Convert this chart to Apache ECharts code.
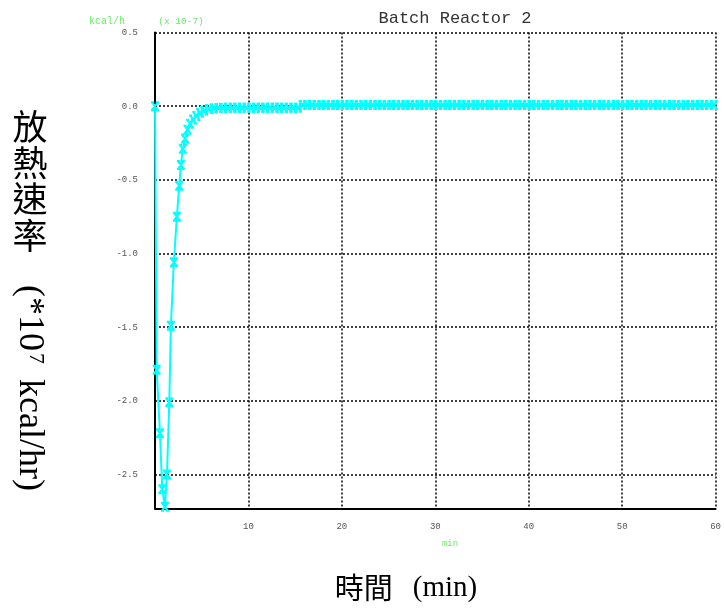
<!DOCTYPE html>
<html>
<head>
<meta charset="utf-8">
<script src="https://cdn.jsdelivr.net/npm/echarts@6/dist/echarts.min.js"></script>
<style>html,body{margin:0;padding:0;background:#fff}#c{width:724px;height:609px}</style>
</head>
<body>
<div id="c"></div>
<script>
var title = 'Batch Reactor 2';
var yUnitLabel = 'kcal/h';
var yScaleLabel = '(x 10-7)';
var xUnitLabel = 'min';
var xTickValues = [10, 20, 30, 40, 50, 60];
var yTickValues = [0.5, 0.0, -0.5, -1.0, -1.5, -2.0, -2.5];
var timeMin = [0, 0.18, 0.53, 0.78, 1.06, 1.28, 1.53, 1.70, 2.02, 2.34, 2.59, 2.77, 2.98, 3.22, 3.48, 3.76, 4.07, 4.43, 4.82, 5.24, 5.78, 6.3,
  6.8, 7.3, 7.8, 8.3, 8.8, 9.3, 9.8, 10.3, 10.8, 11.3, 11.8, 12.3, 12.8, 13.3, 13.8, 14.3, 14.8, 15.3,
  15.8, 16.3, 16.8, 17.3, 17.8, 18.3, 18.8, 19.3, 19.8, 20.3, 20.8, 21.3, 21.8, 22.3, 22.8, 23.3, 23.8, 24.3, 24.8, 25.3,
  25.8, 26.3, 26.8, 27.3, 27.8, 28.3, 28.8, 29.3, 29.8, 30.3, 30.8, 31.3, 31.8, 32.3, 32.8, 33.3, 33.8, 34.3, 34.8, 35.3,
  35.8, 36.3, 36.8, 37.3, 37.8, 38.3, 38.8, 39.3, 39.8, 40.3, 40.8, 41.3, 41.8, 42.3, 42.8, 43.3, 43.8, 44.3, 44.8, 45.3,
  45.8, 46.3, 46.8, 47.3, 47.8, 48.3, 48.8, 49.3, 49.8, 50.3, 50.8, 51.3, 51.8, 52.3, 52.8, 53.3, 53.8, 54.3, 54.8, 55.3,
  55.8, 56.3, 56.8, 57.3, 57.8, 58.3, 58.8, 59.3, 59.8];
var heatRate = [0.0, -1.79, -2.22, -2.60, -2.72, -2.50, -2.01, -1.49, -1.06, -0.75, -0.54, -0.40, -0.29, -0.22, -0.16, -0.12, -0.09, -0.066, -0.045, -0.032, -0.02, -0.014,
  -0.012, -0.011, -0.011, -0.010, -0.010, -0.010, -0.010, -0.010, -0.010, -0.010, -0.010, -0.010, -0.010, -0.010, -0.010, -0.010, -0.010, -0.010,
  0.008, 0.008, 0.008, 0.008, 0.008, 0.008, 0.008, 0.008, 0.008, 0.008, 0.008, 0.008, 0.008, 0.008, 0.008, 0.008, 0.008, 0.008, 0.008, 0.008,
  0.008, 0.008, 0.008, 0.008, 0.008, 0.008, 0.008, 0.008, 0.008, 0.008, 0.008, 0.008, 0.008, 0.008, 0.008, 0.008, 0.008, 0.008, 0.008, 0.008,
  0.008, 0.008, 0.008, 0.008, 0.008, 0.008, 0.008, 0.008, 0.008, 0.008, 0.008, 0.008, 0.008, 0.008, 0.008, 0.008, 0.008, 0.008, 0.008, 0.008,
  0.008, 0.008, 0.008, 0.008, 0.008, 0.008, 0.008, 0.008, 0.008, 0.008, 0.008, 0.008, 0.008, 0.008, 0.008, 0.008, 0.008, 0.008, 0.008, 0.008,
  0.008, 0.008, 0.008, 0.008, 0.008, 0.008, 0.008, 0.008, 0.008];

var seriesData = timeMin.map(function (t, i) { return [t, heatRate[i]]; });
var mono = 'Liberation Mono, DejaVu Sans Mono, monospace';
var green = '#66ee66';
var cjk = '"Noto Sans CJK TC"';
var gridLine = { show: true, lineStyle: { color: '#000', type: [2, 2], width: 1.5 } };

var chart = echarts.init(document.getElementById('c'), null, { renderer: 'canvas' });
chart.setOption({
  animation: false,
  backgroundColor: '#fff',
  grid: { left: 155, top: 32.5, right: 6.5, bottom: 100.7, containLabel: false },
  xAxis: {
    type: 'value', min: 0, max: 60, interval: 10,
    axisLine: { show: true, onZero: false, lineStyle: { color: '#000', width: 2 } },
    axisTick: { show: false },
    axisLabel: {
      fontFamily: mono, fontSize: 9, color: '#555', margin: 14,
      formatter: function (v) { return xTickValues.indexOf(v) >= 0 ? String(v) : ''; }
    },
    splitLine: gridLine
  },
  yAxis: {
    type: 'value', min: -2.73, max: 0.5, splitNumber: 6,
    axisLine: { show: true, onZero: false, lineStyle: { color: '#000', width: 2 } },
    axisTick: { show: false },
    axisLabel: {
      fontFamily: mono, fontSize: 9, color: '#555', margin: 17,
      formatter: function (v) {
        for (var i = 0; i < yTickValues.length; i++) {
          if (Math.abs(yTickValues[i] - v) < 1e-6) return yTickValues[i].toFixed(1);
        }
        return '';
      }
    },
    splitLine: gridLine
  },
  series: [{
    type: 'line',
    data: seriesData,
    lineStyle: { color: '#00ffff', width: 2 },
    symbol: 'path://M0,0L4,0M6,0L10,0M0,10L4,10M6,10L10,10M1,0L9,10M9,0L1,10',
    symbolSize: 8,
    showAllSymbol: true,
    itemStyle: { color: 'rgba(0,0,0,0)', borderColor: '#00ffff', borderWidth: 2 },
    z: 5
  }],
  graphic: [
    { type: 'text', x: 455, y: 18, style: { text: title, font: '17px ' + mono, fill: '#333', align: 'center', verticalAlign: 'middle' } },
    { type: 'text', x: 107, y: 21, style: { text: yUnitLabel, font: '10px ' + mono, fill: green, align: 'center', verticalAlign: 'middle' } },
    { type: 'text', x: 181, y: 21, style: { text: yScaleLabel, font: '9.5px ' + mono, fill: green, align: 'center', verticalAlign: 'middle' } },
    { type: 'text', x: 450, y: 544, style: { text: xUnitLabel, font: '9px ' + mono, fill: green, align: 'center', verticalAlign: 'middle' } },
    { type: 'text', x: 30, y: 127, style: { text: '放', font: '35px ' + cjk, fill: '#000', align: 'center', verticalAlign: 'middle' } },
    { type: 'text', x: 30, y: 163, style: { text: '熱', font: '35px ' + cjk, fill: '#000', align: 'center', verticalAlign: 'middle' } },
    { type: 'text', x: 30, y: 199, style: { text: '速', font: '35px ' + cjk, fill: '#000', align: 'center', verticalAlign: 'middle' } },
    { type: 'text', x: 30, y: 236, style: { text: '率', font: '35px ' + cjk, fill: '#000', align: 'center', verticalAlign: 'middle' } },
    { type: 'text', x: 29, y: 285, rotation: -Math.PI / 2,
      style: {
        text: '{a|(*10}{s|7}{a| kcal/hr)}', align: 'left', verticalAlign: 'middle',
        rich: {
          a: { font: '36px "Liberation Serif"', fill: '#000' },
          s: { font: '22px "Liberation Serif"', fill: '#000', verticalAlign: 'top', padding: [0, 6, 0, 2] }
        }
      }
    },
    { type: 'text', x: 406, y: 588,
      style: {
        text: '{c|時間}{g| }{l|(min)}', align: 'center', verticalAlign: 'middle',
        rich: {
          c: { font: '29px ' + cjk, fill: '#000' },
          g: { font: '29px "Liberation Serif"', width: 20 },
          l: { font: '29px "Liberation Serif"', fill: '#000' }
        }
      }
    }
  ]
});
</script>
</body>
</html>
